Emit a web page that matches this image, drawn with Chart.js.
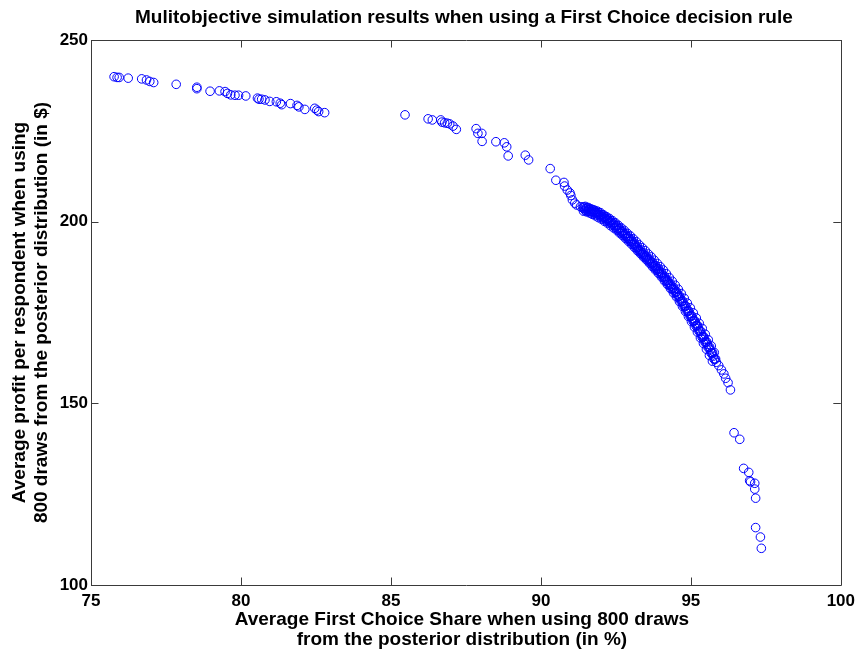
<!DOCTYPE html>
<html>
<head>
<meta charset="utf-8">
<script src="https://cdn.jsdelivr.net/npm/chart.js@4/dist/chart.umd.min.js"></script>
<style>
  html, body { margin: 0; padding: 0; background: #ffffff; }
  #wrap { width: 861px; height: 652px; }
</style>
</head>
<body>
<div id="wrap"><canvas id="c" width="861" height="652"></canvas></div>
<script>
// Pareto front: average first choice share (%) vs average profit per respondent ($)
// Low-share arm of the front
const armShare = [75.77, 75.87, 75.94, 76.24, 76.69, 76.85, 76.96, 77.09, 77.84, 78.53, 78.53, 78.97, 79.28, 79.47, 79.55, 79.66, 79.80, 79.92, 80.16, 80.55, 80.60, 80.69, 80.80, 80.96, 81.18, 81.31, 81.36, 81.65, 81.87, 81.93, 82.13, 82.46, 82.53, 82.59, 82.79];
const armProfit = [239.9, 239.7, 239.7, 239.5, 239.3, 239.0, 238.6, 238.3, 237.8, 237.0, 236.6, 235.9, 236.0, 235.8, 235.3, 234.9, 234.8, 234.8, 234.6, 234.0, 233.7, 233.7, 233.5, 233.1, 233.0, 232.6, 232.2, 232.5, 232.0, 231.6, 230.9, 231.2, 230.7, 230.3, 230.0];

// Sparse middle section
const midShare = [85.47, 86.24, 86.38, 86.66, 86.70, 86.79, 86.88, 86.96, 87.07, 87.18, 87.84, 87.90, 88.03, 88.04, 88.50, 88.78, 88.86, 88.91, 89.48, 89.59, 90.31, 90.50, 90.77, 90.79, 90.88, 90.97, 91.00, 91.05, 91.13, 91.19, 91.32];
const midProfit = [229.4, 228.3, 228.0, 228.0, 227.4, 227.2, 227.1, 226.9, 226.3, 225.4, 225.6, 224.3, 224.3, 222.1, 222.0, 221.7, 220.6, 218.1, 218.3, 217.0, 214.6, 211.4, 210.8, 209.8, 208.7, 207.9, 207.2, 206.0, 205.1, 204.6, 204.1];

// Dense section of the front (centre of the band)
const denseShare = [91.40, 91.45, 91.50, 91.55, 91.60, 91.65, 91.70, 91.75, 91.80, 91.85, 91.90, 91.95, 92.00, 92.05, 92.10, 92.15, 92.20, 92.25, 92.30, 92.35, 92.40, 92.45, 92.50, 92.55, 92.60, 92.65, 92.70, 92.75, 92.80, 92.85, 92.90, 92.95, 93.00, 93.05, 93.10, 93.15, 93.20, 93.25, 93.30, 93.35, 93.40, 93.45, 93.50, 93.55, 93.60, 93.65, 93.70, 93.75, 93.80, 93.85, 93.90, 93.95, 94.00, 94.05, 94.10, 94.15, 94.20, 94.25, 94.30, 94.35, 94.40, 94.45, 94.50, 94.55, 94.60, 94.65, 94.70, 94.75, 94.80, 94.85, 94.90, 94.95, 95.00, 95.05, 95.10, 95.15, 95.20, 95.25, 95.30, 95.35, 95.40, 95.45, 95.50, 95.55, 95.60, 95.65, 95.70, 95.75, 95.80, 95.85];
const denseProfit = [203.8, 203.5, 203.6, 203.2, 203.3, 202.9, 202.8, 202.9, 202.4, 202.5, 202.1, 201.9, 201.8, 201.3, 201.2, 200.9, 200.6, 200.4, 199.9, 199.8, 199.4, 199.0, 198.8, 198.2, 198.0, 197.4, 197.2, 196.7, 196.4, 196.0, 195.5, 195.3, 194.7, 194.4, 193.8, 193.5, 192.9, 192.4, 192.0, 191.6, 191.1, 190.8, 190.3, 189.8, 189.5, 189.0, 188.6, 188.1, 187.8, 187.2, 186.9, 186.3, 185.8, 185.4, 184.7, 184.3, 183.8, 183.2, 182.7, 182.2, 181.6, 181.2, 180.6, 180.0, 179.5, 178.7, 178.1, 177.4, 176.8, 176.0, 175.4, 174.7, 174.0, 173.4, 172.7, 172.0, 171.4, 170.6, 169.9, 169.0, 168.3, 167.6, 166.8, 166.2, 165.4, 164.7, 163.9, 163.0, 162.2, 161.3];

// Dense section, points lying between the centre rows
const fillShare = [91.425, 91.475, 91.525, 91.575, 91.625, 91.675, 91.725, 91.775, 91.825, 91.875, 91.925, 91.975, 92.025, 92.075, 92.125, 92.175, 92.225, 92.275, 92.325, 92.375, 92.425, 92.475, 92.525, 92.575, 92.625, 92.675, 92.725, 92.775, 92.825, 92.875, 92.925, 92.975, 93.025, 93.075, 93.125, 93.175, 93.225, 93.275, 93.325, 93.375, 93.425, 93.475, 93.525, 93.575, 93.625, 93.675, 93.725, 93.775, 93.825, 93.875, 93.925, 93.975, 94.025, 94.075, 94.125, 94.175, 94.225, 94.275, 94.325, 94.375, 94.425, 94.475, 94.525, 94.575, 94.625, 94.675, 94.725, 94.775, 94.825, 94.875, 94.925, 94.975, 95.025, 95.075, 95.125, 95.175, 95.225, 95.275, 95.325, 95.375, 95.425, 95.475, 95.525, 95.575, 95.625, 95.675, 95.725, 95.775, 95.825];
const fillProfit = [204.1, 203.1, 203.85, 202.8, 203.55, 202.4, 203.3, 202.2, 202.9, 201.85, 202.45, 201.4, 202.0, 200.8, 201.5, 200.3, 200.95, 199.7, 200.3, 199.15, 199.65, 198.45, 198.95, 197.65, 198.15, 196.85, 197.4, 196.1, 196.65, 195.3, 195.85, 194.55, 195.0, 193.65, 194.1, 192.75, 193.1, 191.75, 192.25, 190.9, 191.4, 190.1, 190.5, 189.2, 189.7, 188.35, 188.8, 187.5, 187.95, 186.6, 187.05, 185.6, 186.05, 184.6, 184.95, 183.6, 183.95, 182.5, 182.9, 181.45, 181.85, 180.45, 180.75, 179.3, 179.55, 177.95, 178.2, 176.65, 176.85, 175.25, 175.5, 173.9, 174.15, 172.6, 172.8, 171.25, 171.45, 169.8, 169.9, 168.2, 168.4, 166.75, 166.95, 165.35, 165.5, 163.85, 163.9, 162.15, 162.2];

// Dense section, points on the upper edge of the band
const upperShare = [91.48, 91.58, 91.68, 91.78, 91.88, 91.98, 92.08, 92.18, 92.28, 92.38, 92.48, 92.58, 92.68, 92.78, 92.88, 92.98, 93.08, 93.18, 93.28, 93.38, 93.48, 93.58, 93.68, 93.78, 93.88, 93.98, 94.08, 94.18, 94.28, 94.38, 94.48, 94.58, 94.68, 94.78, 94.88, 94.98, 95.08, 95.18, 95.28, 95.38, 95.48, 95.58, 95.68, 95.78];
const upperProfit = [204.2, 203.9, 203.5, 203.2, 202.9, 202.5, 201.9, 201.4, 200.9, 200.3, 199.7, 199.0, 198.3, 197.6, 196.8, 196.1, 195.3, 194.5, 193.6, 192.8, 192.0, 191.1, 190.3, 189.4, 188.5, 187.6, 186.7, 185.7, 184.6, 183.6, 182.5, 181.4, 180.2, 178.9, 177.6, 176.3, 174.9, 173.5, 172.0, 170.6, 169.0, 167.5, 165.8, 164.0];

// Dense section, points on the lower edge of the band
const lowerShare = [91.42, 91.52, 91.62, 91.72, 91.82, 91.92, 92.02, 92.12, 92.22, 92.32, 92.42, 92.52, 92.62, 92.72, 92.82, 92.92, 93.02, 93.12, 93.22, 93.32, 93.42, 93.52, 93.62, 93.72, 93.82, 93.92, 94.02, 94.12, 94.22, 94.32, 94.42, 94.52, 94.62, 94.72, 94.82, 94.92, 95.02, 95.12, 95.22, 95.32, 95.42, 95.52, 95.62, 95.72];
const lowerProfit = [202.9, 202.7, 202.4, 202.0, 201.6, 201.1, 200.7, 200.1, 199.6, 198.9, 198.3, 197.7, 196.9, 196.2, 195.4, 194.6, 193.8, 192.9, 192.0, 191.2, 190.3, 189.5, 188.6, 187.6, 186.7, 185.8, 184.8, 183.7, 182.7, 181.6, 180.4, 179.3, 178.0, 176.7, 175.3, 173.9, 172.5, 171.0, 169.6, 168.0, 166.5, 164.9, 163.2, 161.6];

// High-share tail
const tailShare = [95.93, 96.02, 96.10, 96.16, 96.24, 96.32, 96.44, 96.63, 96.76, 96.93, 96.96, 96.99, 97.13, 97.13, 97.16, 97.16, 97.32, 97.35];
const tailProfit = [160.4, 159.2, 158.1, 156.9, 155.7, 153.7, 141.9, 140.1, 132.1, 131.0, 128.7, 128.4, 128.0, 126.4, 123.9, 115.8, 113.2, 110.1];

const xTickValues = [75, 80, 85, 90, 95, 100];
const yTickValues = [100, 150, 200, 250];

const titleText = 'Mulitobjective simulation results when using a First Choice decision rule';
const xTitleLines = ['Average First Choice Share when using 800 draws', 'from the posterior distribution (in %)'];
const yTitleLines = ['Average profit per respondent when using', '800 draws from the posterior distribution (in $)'];

function toPoints(xs, ys) {
  return xs.map((x, i) => ({ x: x, y: ys[i] }));
}
const points = [].concat(
  toPoints(armShare, armProfit),
  toPoints(midShare, midProfit),
  toPoints(denseShare, denseProfit),
  toPoints(fillShare, fillProfit),
  toPoints(upperShare, upperProfit),
  toPoints(lowerShare, lowerProfit),
  toPoints(tailShare, tailProfit)
);

const FONT = '"Liberation Sans", Arial, Helvetica, sans-serif';

// Box, inward ticks and all titles, drawn after the datasets
const frame = {
  id: 'frame',
  afterDraw(chart) {
    const ctx = chart.ctx;
    const a = chart.chartArea;
    const xs = chart.scales.x, ys = chart.scales.y;
    const tick = 7.5;
    ctx.save();
    ctx.strokeStyle = '#3a3a3a';
    ctx.lineWidth = 1;
    ctx.beginPath();
    ctx.rect(Math.round(a.left) + 0.5, Math.round(a.top) + 0.5,
             Math.round(a.right - a.left), Math.round(a.bottom - a.top));
    xTickValues.forEach(v => {
      const px = Math.round(xs.getPixelForValue(v)) + 0.5;
      ctx.moveTo(px, a.bottom); ctx.lineTo(px, a.bottom - tick);
      ctx.moveTo(px, a.top); ctx.lineTo(px, a.top + tick);
    });
    yTickValues.forEach(v => {
      const py = Math.round(ys.getPixelForValue(v)) + 0.5;
      ctx.moveTo(a.left, py); ctx.lineTo(a.left + tick, py);
      ctx.moveTo(a.right, py); ctx.lineTo(a.right - tick, py);
    });
    ctx.stroke();

    ctx.fillStyle = '#000000';
    ctx.textAlign = 'center';
    ctx.textBaseline = 'middle';
    const cx = (a.left + a.right) / 2;
    ctx.font = 'bold 19px ' + FONT;
    ctx.fillText(titleText, cx - 2, 18);

    ctx.font = 'bold 19px ' + FONT;
    ctx.fillText(xTitleLines[0], cx - 4, 620);
    ctx.fillText(xTitleLines[1], cx - 4, 640);

    const cy = (a.top + a.bottom) / 2;
    ctx.translate(20, cy);
    ctx.rotate(-Math.PI / 2);
    ctx.fillText(yTitleLines[0], 0, 0);
    ctx.fillText(yTitleLines[1], 0, 22);
    ctx.restore();
  }
};

new Chart(document.getElementById('c'), {
  type: 'scatter',
  data: {
    datasets: [{
      data: points,
      showLine: false,
      pointStyle: 'circle',
      pointRadius: 4.3,
      pointHoverRadius: 4.3,
      pointBorderWidth: 1,
      pointBorderColor: '#0000ff',
      pointBackgroundColor: 'rgba(0,0,0,0)'
    }]
  },
  options: {
    responsive: false,
    animation: false,
    devicePixelRatio: 1,
    events: [],
    layout: { padding: { left: 0, top: 40, right: 16, bottom: 0 } },
    plugins: {
      legend: { display: false },
      title: { display: false },
      tooltip: { enabled: false }
    },
    scales: {
      x: {
        type: 'linear',
        min: 75, max: 100,
        afterBuildTicks: s => { s.ticks = xTickValues.map(v => ({ value: v })); },
        afterFit: s => { s.height = 67; },
        grid: { display: false, drawTicks: false },
        border: { display: false },
        ticks: {
          color: '#000000',
          font: { family: FONT, size: 17, weight: 'bold' },
          padding: 6,
          maxRotation: 0,
          autoSkip: false
        }
      },
      y: {
        type: 'linear',
        min: 100, max: 250,
        afterBuildTicks: s => { s.ticks = yTickValues.map(v => ({ value: v })); },
        afterFit: s => { s.width = 91; },
        grid: { display: false, drawTicks: false },
        border: { display: false },
        ticks: {
          color: '#000000',
          font: { family: FONT, size: 17, weight: 'bold' },
          padding: 3,
          autoSkip: false
        }
      }
    }
  },
  plugins: [frame]
});
</script>
</body>
</html>
